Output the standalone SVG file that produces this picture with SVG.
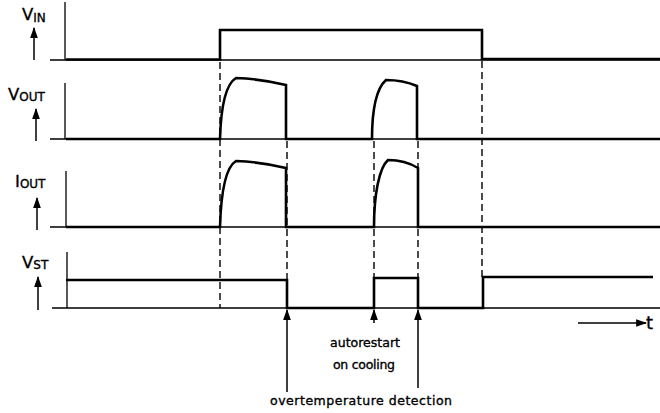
<svg xmlns="http://www.w3.org/2000/svg" width="660" height="413" viewBox="0 0 660 413">
<defs>
<marker id="ah" viewBox="0 0 10 10" refX="9" refY="5" markerWidth="11" markerHeight="11" markerUnits="userSpaceOnUse" orient="auto"><path d="M0,1.5 L10,5 L0,8.5 Z" fill="#000"/></marker>
</defs>
<style>
.ax{stroke:#000;stroke-width:1.3;fill:none}
.sig{stroke:#000;stroke-width:2.6;fill:none;stroke-linejoin:miter}
.dash{stroke:#000;stroke-width:1.4;fill:none;stroke-dasharray:7 4}
.arr{stroke:#000;stroke-width:1.5;fill:none;marker-end:url(#ah)}
.lbl{font-family:"DejaVu Sans","Liberation Sans",sans-serif;fill:#000;stroke:#000;stroke-width:0.35}
.big{font-size:16.5px}
.sub{font-size:12px}
.note{font-size:12.5px}
</style>
<rect width="660" height="413" fill="#fff"/>
<g id="axes">
<path class="ax" d="M65,2 V60 M50,60 H660"/>
<path class="ax" d="M65,83 V139 M50,139 H660"/>
<path class="ax" d="M66,171 V227 M50,227 H660"/>
<path class="ax" d="M67,252 V308 M52,308 H660"/>
</g>
<g id="connectors">
<path class="dash" d="M220,62 V308"/>
<path class="dash" d="M287,141 V280"/>
<path class="dash" d="M374,141 V278"/>
<path class="dash" d="M418,141 V278"/>
<path class="dash" d="M482,61 V277"/>
<path class="arr" d="M287,392 V310"/>
<path class="arr" d="M374,323 V310"/>
<path class="arr" d="M418,388 V310"/>
<path class="arr" d="M578,323 H646"/>
<path class="arr" d="M34,60 V28"/>
<path class="arr" d="M36,141 V109"/>
<path class="arr" d="M37,230 V198"/>
<path class="arr" d="M38,310 V277"/>
</g>
<g id="vin">
<path class="sig" d="M66,59.5 H220 V30 H482 V59 H660"/>
<text class="lbl big" x="22" y="20">V<tspan class="sub" dy="2">IN</tspan></text>
</g>
<g id="vout">
<path class="sig" d="M66,139 H220 C221,104 226,84 236,78 Q262,79 286,85 V139 H372 C372,108 377,88 386,80 Q403,80 417,86 V139 H660"/>
<text class="lbl big" x="8" y="100">V<tspan class="sub" dy="1">OUT</tspan></text>
</g>
<g id="iout">
<path class="sig" d="M66,227 H220 C221,192 226,167 236,161 Q262,162 286,168 V227 H374 C374,195 379,168 388,160 Q405,160 418,168 V227 H660"/>
<text class="lbl big" x="15" y="187">I<tspan class="sub" dy="1">OUT</tspan></text>
</g>
<g id="vst">
<path class="sig" d="M66,280 H287 V308 H374 V278 H418 V308 H483 V277 H653"/>
<text class="lbl big" x="22" y="268">V<tspan class="sub" dy="1">ST</tspan></text>
</g>
<g id="labels">
<text class="lbl" x="646" y="329" font-size="18">t</text>
<text class="lbl note" x="330" y="347" textLength="70">autorestart</text>
<text class="lbl note" x="333" y="369" textLength="62">on cooling</text>
<text class="lbl note" x="270" y="405" textLength="182">overtemperature detection</text>
</g>
</svg>
